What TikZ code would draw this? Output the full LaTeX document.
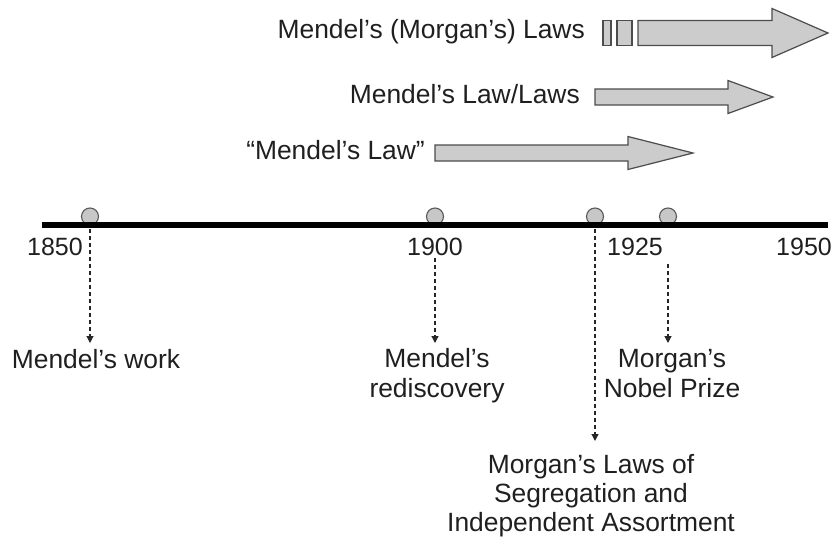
\documentclass[tikz,border=0pt]{standalone}
\usepackage{fontspec}
\setmainfont{Liberation Sans}
\usetikzlibrary{arrows.meta}
\begin{document}
\begin{tikzpicture}[x=1pt,y=-1pt,
  lbl/.style={font=\fontsize{26.4}{29.5}\selectfont, text=black!88, inner sep=0pt, align=center},
  yr/.style={font=\fontsize{25}{29}\selectfont, text=black!88, inner sep=0pt, anchor=base},
  evt/.style={circle, draw=black!65, fill=black!22, line width=1.1pt, minimum size=17pt, inner sep=0pt},
  bigarrow/.style={draw=black!70, fill=black!20, line width=1.2pt, line join=miter},
  dasharrow/.style={draw=black!85, line width=1.2pt, dash pattern=on 4pt off 3pt, -{Triangle[length=7pt,width=7pt]}}
]
\useasboundingbox (0,0) rectangle (840,544);
% event circles
\node[evt] (c1) at (90,216.5) {};
\node[evt] (c2) at (435,216.5) {};
\node[evt] (c3) at (595,216.5) {};
\node[evt] (c4) at (668,216.5) {};
% timeline bar
\draw[line width=6.6pt, black] (42,225) coordinate (barL) -- (828,225) coordinate (barR);
% year labels
\node[yr] (y1850) at (55,255) {1850};
\node[yr] (y1900) at (435,255) {1900};
\node[yr] (y1925) at (635,255) {1925};
\node[yr] (y1950) at (804,255) {1950};
% period arrows
\draw[bigarrow] (603,20.5) rectangle (611,45.5);
\draw[bigarrow] (617,20.5) rectangle (632,45.5);
\draw[bigarrow] (638,20.5) -- (772,20.5) -- (772,8.5) -- (828,33) -- (772,57.5) -- (772,45.5) -- (638,45.5) -- cycle;
\draw[bigarrow] (595,89) -- (728,89) -- (728,80.5) -- (773,97) -- (728,113.5) -- (728,105) -- (595,105) -- cycle;
\draw[bigarrow] (435,145) -- (628,145) -- (628,136.5) -- (693,153) -- (628,169.5) -- (628,161) -- (435,161) -- cycle;
\node[lbl, anchor=base east] (t1) at (585,38) {Mendel’s (Morgan’s) Laws};
\node[lbl, anchor=base east] (t2) at (580,103) {Mendel’s Law/Laws};
\node[lbl, anchor=base east] (t3) at (425,159) {“Mendel’s Law”};
% event labels (base anchor = last line's baseline)
\node[lbl, anchor=base] (l1) at (96,368) {Mendel’s work};
\node[lbl, anchor=base] (l2) at (437,397) {Mendel’s\\rediscovery};
\node[lbl, anchor=base] (l4) at (672,397) {Morgan’s\\Nobel Prize};
\node[lbl, anchor=base, font=\fontsize{26.4}{28.8}\selectfont] (l3) at (591,531) {Morgan’s Laws of\\Segregation and\\Independent Assortment};
% connectors
\coordinate (s1) at (90,229);
\coordinate (s2) at (435,258);
\coordinate (s3) at (595,229);
\coordinate (s4) at (668,264);
\coordinate (e1) at (90,343);
\coordinate (e2) at (435,343);
\coordinate (e3) at (595,441);
\coordinate (e4) at (668,343);
\draw[dasharrow] (s1) -- (e1);
\draw[dasharrow] (s2) -- (e2);
\draw[dasharrow] (s3) -- (e3);
\draw[dasharrow] (s4) -- (e4);
\end{tikzpicture}
\end{document}
